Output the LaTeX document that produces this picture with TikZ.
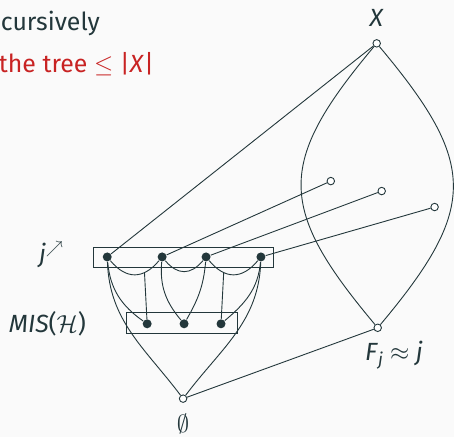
\documentclass[tikz,border=0pt]{standalone}
\usepackage{fontspec}
\setmainfont{Fira Sans}
\usetikzlibrary{positioning}

\definecolor{slate}{HTML}{23373B}
\definecolor{alertred}{RGB}{200,35,35}
\definecolor{slidebg}{HTML}{FAFAFA}

\begin{document}
\begin{tikzpicture}[
  x=1bp, y=1bp,
  vertex/.style={circle, draw=slate, fill=white, line width=0.9bp, inner sep=0pt, minimum size=7.5bp},
  dot/.style={circle, fill=slate, inner sep=0pt, minimum size=9bp},
  lbl/.style={text=slate, inner sep=0pt, font=\fontsize{25}{30}\selectfont},
  slidetext/.style={inner sep=0pt, anchor=base west, font=\fontsize{25}{30}\selectfont},
  every path/.append style={draw=slate, line width=0.9bp}
]
\useasboundingbox (0,0) rectangle (454,437);
\path[fill=slidebg, draw=none] (0,0) rectangle (454,437);

\node[slidetext, text=slate] (line1) at (0,407) {cursively};
\node[slidetext, text=alertred] (line2) at (-2,365) {the tree $\leq$ |\textit{X}|};

\node[vertex] (X) at (377,394) {};
\node[vertex] (F) at (378,109) {};
\node[vertex] (E) at (183,38) {};
\node[vertex] (s1) at (331,256) {};
\node[vertex] (s2) at (382,246) {};
\node[vertex] (s3) at (435,230) {};

\node[dot] (u1) at (107,180) {};
\node[dot] (u2) at (162,180) {};
\node[dot] (u3) at (206,180) {};
\node[dot] (u4) at (261,180) {};
\node[dot] (l1) at (147,113) {};
\node[dot] (l2) at (184,113) {};
\node[dot] (l3) at (221,113) {};

\draw (93,169) rectangle (274,190);
\draw (126,103) rectangle (237,124);

\node[lbl, above=12bp of X] (Xlbl) {\textit{X}};
\node[lbl, below right=10bp and -16bp of F] (Flbl) {\textit{F}\textsubscript{\textit{j}} $\approx$ \textit{j}};
\node[lbl, below=11bp of E] (Elbl) {$\emptyset$};
\node[lbl] (jlbl) at (51,182) {\textit{j}$^{\nearrow}$};
\node[lbl] (mislbl) at (47,113) {\textit{MIS}($\mathcal{H}$)};

\draw (X) to[out=-130, in=130, looseness=1.4] (F);
\draw (X) to[out=-50, in=50, looseness=1.4] (F);
\draw (X) -- (u1);
\draw (u2) -- (s1);
\draw (u3) -- (s2);
\draw (u4) -- (s3);
\draw (E) -- (F);

\draw (u1) to[bend right=50, looseness=1.3] coordinate[pos=0.7] (a1) (u2);
\draw (u2) to[bend right=50, looseness=1.3] (u3);
\draw (u3) to[bend right=50, looseness=1.3] coordinate[pos=0.3] (a3) (u4);

\draw (u1) to[out=-88, in=127] (E);
\draw (u4) to[out=-92, in=53] (E);
\draw (u1) to[out=-85, in=145] (l1);
\draw (u2) to[out=-95, in=130] (l2);
\draw (u3) to[out=-95, in=60] (l2);
\draw (u4) to[out=-95, in=40] (l3);
\draw (l1) -- (a1);
\draw (l3) -- (a3);

\end{tikzpicture}
\end{document}
